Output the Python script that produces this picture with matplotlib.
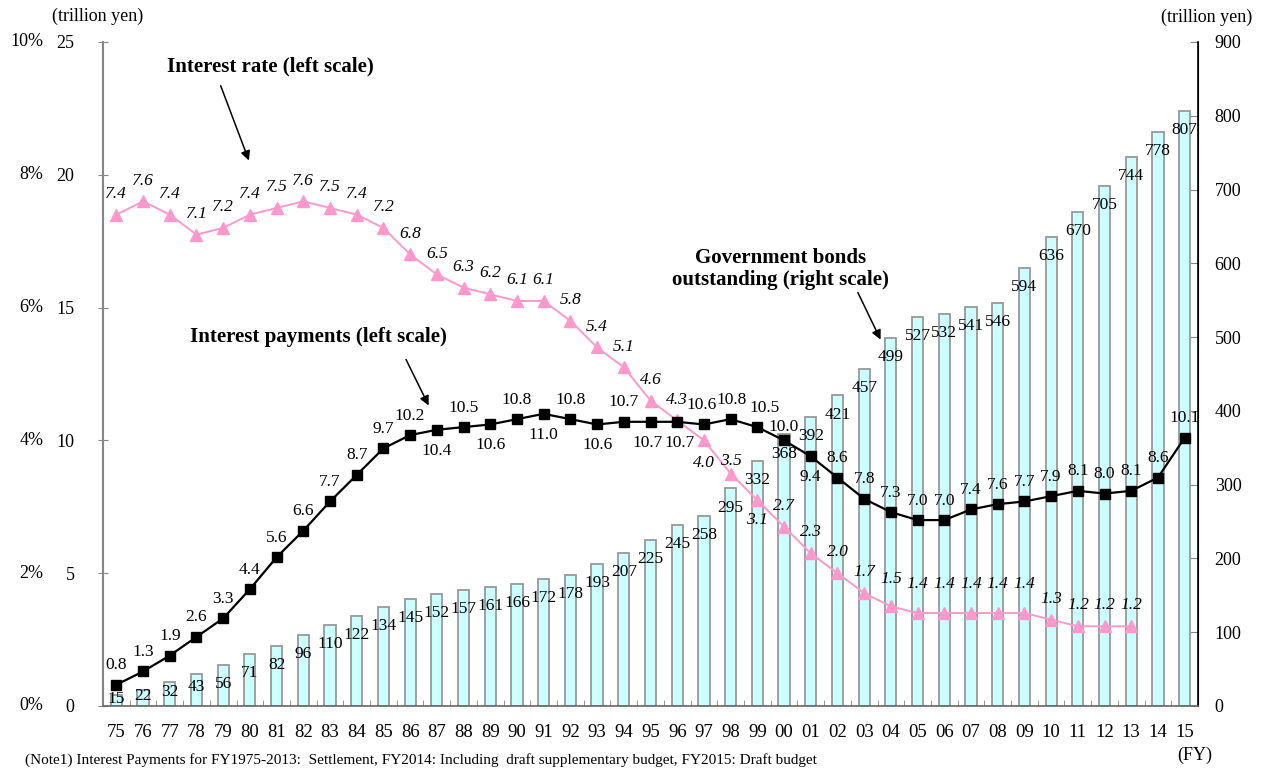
import matplotlib
matplotlib.use("Agg")
import matplotlib.pyplot as plt
import numpy as np

plt.rcParams['font.family'] = ['Liberation Serif', 'DejaVu Serif']

# data
years = list(range(1975, 2016))
year_labels = [f"{y % 100:02d}" for y in years]
bonds = [15, 22, 32, 43, 56, 71, 82, 96, 110, 122, 134, 145, 152, 157, 161, 166, 172,
         178, 193, 207, 225, 245, 258, 295, 332, 368, 392, 421, 457, 499, 527, 532,
         541, 546, 594, 636, 670, 705, 744, 778, 807]
payments = [0.8, 1.3, 1.9, 2.6, 3.3, 4.4, 5.6, 6.6, 7.7, 8.7, 9.7, 10.2, 10.4, 10.5,
            10.6, 10.8, 11.0, 10.8, 10.6, 10.7, 10.7, 10.7, 10.6, 10.8, 10.5, 10.0,
            9.4, 8.6, 7.8, 7.3, 7.0, 7.0, 7.4, 7.6, 7.7, 7.9, 8.1, 8.0, 8.1, 8.6, 10.1]
rate_years = list(range(1975, 2014))
rates = [7.4, 7.6, 7.4, 7.1, 7.2, 7.4, 7.5, 7.6, 7.5, 7.4, 7.2, 6.8, 6.5, 6.3, 6.2,
         6.1, 6.1, 5.8, 5.4, 5.1, 4.6, 4.3, 4.0, 3.5, 3.1, 2.7, 2.3, 2.0, 1.7, 1.5,
         1.4, 1.4, 1.4, 1.4, 1.4, 1.3, 1.2, 1.2, 1.2]

# label placement tweaks (points)
pay_below = {1987, 1989, 1991, 1993, 1995, 1996, 2001}
pay_offsets = {2000: 10}
pay_xoff = {1995: -2, 1996: 2, 1997: -2, 1998: 1, 1999: 5}
rate_offsets = {1997: -16, 1999: -14, 1998: 9, 2004: 20, 2005: 21, 2006: 21,
                2007: 21, 2008: 21, 2009: 21}

x = np.arange(len(years))
xr = np.arange(len(rate_years))

fig = plt.figure(figsize=(12.66, 7.69), dpi=100)
ax = fig.add_axes([103 / 1266, 63 / 769, 1095 / 1266, 664 / 769])
ax2 = ax.twinx()
ax.set_zorder(ax2.get_zorder() + 1)
ax.patch.set_visible(False)

# bars (right scale)
ax2.bar(x, bonds, width=0.42, color='#CCFFFF', edgecolor='#999999', linewidth=1.3, zorder=2)
for xi, v in zip(x, bonds):
    ly = v - 26 if v >= 52 else v * 0.6
    ax2.text(xi, ly, str(v), ha='center', va='center', fontsize=12.5, zorder=3)
ax2.set_ylim(0, 900)
ax2.set_yticks(range(0, 901, 100))
ax2.tick_params(axis='y', direction='in', length=6, color='#868686', pad=12, labelsize=13)

# lines (left scale)
ax.plot(x, payments, color='black', lw=1.6, marker='s', ms=6.5, zorder=5)
rate_scaled = [r * 2.5 for r in rates]
ax.plot(xr, rate_scaled, color='#FF99CC', lw=1.4, marker='^', ms=8, zorder=4)

for xi, yr, v in zip(x, years, payments):
    off = -15 if yr in pay_below else pay_offsets.get(yr, 14)
    ax.annotate(f"{v:.1f}", (xi, v), xytext=(pay_xoff.get(yr, 0), off),
                textcoords='offset points', ha='center', va='center',
                fontsize=12.5, zorder=6)
for xi, yr, v, vs in zip(xr, rate_years, rates, rate_scaled):
    off = rate_offsets.get(yr, 15)
    ax.annotate(f"{v:.1f}", (xi, vs), xytext=(0, off), textcoords='offset points',
                ha='center', va='center', fontsize=12.5, style='italic', zorder=6)

ax.set_xlim(-0.5, len(years) - 0.5)
ax.set_ylim(0, 25)
ax.set_yticks(range(0, 26, 5))
ax.tick_params(axis='y', direction='inout', length=7, color='#868686', pad=17, labelsize=13)
for v, p in zip(range(0, 26, 5), ["0%", "2%", "4%", "6%", "8%", "10%"]):
    ax.annotate(p, (0, v), xycoords=('axes fraction', 'data'), xytext=(-43, 0),
                textcoords='offset points', ha='right', va='center', fontsize=13)

ax.set_xticks(x)
ax.set_xticklabels(year_labels, fontsize=13.5)
ax.tick_params(axis='x', length=0, pad=13)
ax.set_xticks(np.arange(-0.5, len(years), 1), minor=True)
ax.tick_params(axis='x', which='minor', direction='in', length=4, color='#868686')

for a in (ax, ax2):
    a.spines['top'].set_visible(False)
ax.spines['left'].set_color('#868686')
ax.spines['left'].set_linewidth(1.5)
ax.spines['bottom'].set_color('#666666')
ax.spines['bottom'].set_linewidth(1.2)
ax2.spines['right'].set_color('black')
ax2.spines['right'].set_linewidth(1.2)
ax2.spines['left'].set_visible(False)
ax2.spines['bottom'].set_visible(False)

# callouts
arrow = dict(arrowstyle='-|>', color='black', lw=1.1, mutation_scale=14)
ax.text(5.78, 24.06, "Interest rate (left scale)", ha='center', va='center',
        fontsize=15, fontweight='bold')
ax.annotate("", xy=(5.0, 20.44), xytext=(3.87, 23.45), arrowprops=arrow)
ax.text(7.55, 13.89, "Interest payments (left scale)", ha='center', va='center',
        fontsize=15, fontweight='bold')
ax.annotate("", xy=(11.74, 11.22), xytext=(10.80, 13.14), arrowprops=arrow)
ax.text(24.88, 16.45, "Government bonds\noutstanding (right scale)", ha='center',
        va='center', fontsize=15, fontweight='bold', linespacing=1.1)
ax.annotate("", xy=(28.66, 13.70), xytext=(27.72, 15.66), arrowprops=arrow)

fig.text(98 / 1266, 1 - 16 / 769, "(trillion yen)", ha='center', va='center', fontsize=13)
fig.text(1207 / 1266, 1 - 17 / 769, "(trillion yen)", ha='center', va='center', fontsize=13)
fig.text(1195 / 1266, 1 - 755 / 769, "(FY)", ha='center', va='center', fontsize=13)
fig.text(25 / 1266, 1 - 760 / 769,
         "(Note1) Interest Payments for FY1975-2013:  Settlement, FY2014: Including  draft supplementary budget, FY2015: Draft budget",
         ha='left', va='center', fontsize=11)

fig.savefig("out.png", dpi=100)
